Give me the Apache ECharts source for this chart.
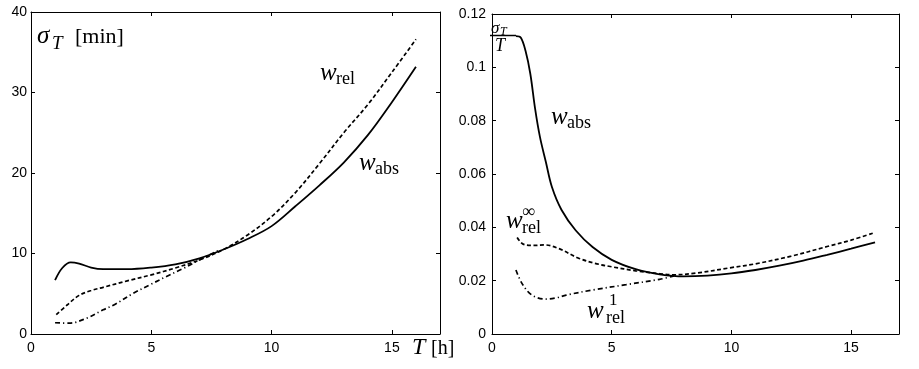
<!DOCTYPE html>
<html>
<head>
<meta charset="utf-8">
<script src="https://cdn.jsdelivr.net/npm/echarts@6/dist/echarts.min.js"></script>
<style>
  html, body { margin: 0; background: #fff; }
  #chart { width: 919px; height: 369px; }
</style>
</head>
<body>
<div id="chart"></div>
<script>
// left panel: sigma_T in minutes vs T [h]
const leftAbs = [[1.0, 6.7], [1.3, 8.2], [1.65, 8.9], [2.0, 8.75], [2.5, 8.25], [3.0, 8.05], [4.0, 8.05],
  [5.0, 8.25], [6.0, 8.65], [7.0, 9.4], [8.0, 10.5], [9.0, 11.8], [10.0, 13.4], [11.0, 15.9],
  [12.0, 18.5], [13.0, 21.3], [14.0, 24.7], [15.0, 28.8], [16.0, 33.2]];
const leftRel = [[1.05, 2.4], [1.5, 3.6], [2.0, 4.8], [2.5, 5.4], [3.0, 5.8], [4.0, 6.6], [5.0, 7.35],
  [6.0, 8.2], [7.0, 9.2], [8.0, 10.5], [9.0, 12.3], [10.0, 14.6], [11.0, 17.6], [12.0, 21.2],
  [13.0, 25.0], [14.0, 28.5], [15.0, 32.5], [16.0, 36.6]];
const leftRel1 = [[1.0, 1.4], [1.6, 1.35], [2.3, 1.95], [3.0, 3.0], [3.5, 3.7], [4.25, 5.05], [5.0, 6.2],
  [5.6, 7.1], [6.3, 8.1], [7.0, 9.2], [7.8, 10.4]];

// right panel: sigma_T / T
const rightAbs = [[1.0, 0.1117], [1.2, 0.1112], [1.4, 0.1062], [1.6, 0.0976], [1.8, 0.0845], [2.0, 0.074],
  [2.25, 0.0645], [2.5, 0.0552], [2.9, 0.0466], [3.5, 0.0388], [4.2, 0.0326], [5.0, 0.0278],
  [6.0, 0.0243], [7.0, 0.0224], [8.0, 0.0216], [9.0, 0.0219], [10.0, 0.0227], [11.0, 0.024],
  [12.0, 0.0256], [13.0, 0.0275], [14.0, 0.0297], [15.0, 0.032], [16.0, 0.0344]];
const rightRelInf = [[1.05, 0.0362], [1.3, 0.0337], [1.7, 0.0332], [2.2, 0.0334], [2.8, 0.032], [3.6, 0.0285],
  [4.3, 0.0265], [5.0, 0.0252], [6.0, 0.0237], [7.0, 0.0226], [7.6, 0.0222], [8.5, 0.0228],
  [10.0, 0.0249], [11.0, 0.0263], [12.5, 0.0292], [14.0, 0.0328], [15.0, 0.0352], [16.0, 0.0381]];
const rightRel1 = [[1.0, 0.024], [1.25, 0.019], [1.65, 0.0147], [2.2, 0.0131], [2.7, 0.0136], [3.1, 0.0146],
  [4.2, 0.0165], [5.6, 0.0185], [7.0, 0.0205], [7.6, 0.0218]];

const xTicks = { min: 0, max: 17, interval: 5 };
const leftY = { min: 0, max: 40, interval: 10 };
const rightY = { min: 0, max: 0.12, interval: 0.02 };

const chart = echarts.init(document.getElementById("chart"));

const SANS = '"Liberation Sans", Arial, sans-serif';
const SERIF = '"Liberation Serif", "DejaVu Serif", serif';

// box around each plot: axes on all four sides, ticks pointing in
const axisLine = { show: true, onZero: false, lineStyle: { color: "#000", width: 1 } };
const tick = { show: true, inside: true, length: 4, lineStyle: { color: "#000" } };

function xAxis(gi, pos, showLabel) {
  return {
    type: "value", gridIndex: gi, position: pos, ...xTicks,
    axisLine, axisTick: tick, splitLine: { show: false },
    axisLabel: { show: showLabel, color: "#000", fontFamily: SANS, fontSize: 14, margin: 7,
      showMaxLabel: false },
  };
}
function yAxis(gi, pos, range, showLabel, margin) {
  return {
    type: "value", gridIndex: gi, position: pos, ...range,
    axisLine, axisTick: tick, splitLine: { show: false },
    axisLabel: { show: showLabel, color: "#000", fontFamily: SANS, fontSize: 14, margin: margin },
  };
}

function line(data, xi, yi, type) {
  return {
    type: "line", xAxisIndex: xi, yAxisIndex: yi, data: data,
    smooth: 0.35, symbol: "none", silent: true,
    lineStyle: { color: "#000", width: type === "solid" ? 1.8 : 1.7, type: type },
  };
}

const DASH = [4, 2.5];
const DASHDOT = [5, 3, 1.2, 3];

// math-ish text pieces, placed by left edge and baseline
function t(x, base, text, size, italic) {
  return {
    type: "text", x: x, y: base + Math.round(size * 0.22), silent: true,
    style: {
      text: text, fill: "#000", verticalAlign: "bottom",
      font: (italic ? "italic " : "") + size + "px " + SERIF,
    },
  };
}

const graphics = [
  // left panel
  t(37, 43, "σ", 25, true), t(52, 49, "T", 19, true), t(75, 43, "[min]", 22, false),
  t(320, 80, "w", 25, true), t(336, 84, "rel", 18, false),
  t(359, 170, "w", 25, true), t(375, 174, "abs", 18, false),
  t(412, 355, "T", 24, true), t(431, 355, "[h]", 20, false),
  // right panel
  t(491, 33, "σ", 17, true), t(500, 35, "T", 12, true),
  { type: "line", silent: true, shape: { x1: 490, y1: 35.5, x2: 516, y2: 35.5 },
    style: { stroke: "#000", lineWidth: 1.5 } },
  t(495, 51, "T", 18, true),
  t(551, 124, "w", 25, true), t(567, 128, "abs", 18, false),
  t(506, 228, "w", 25, true), t(522, 233, "rel", 18, false), t(522, 217, "∞", 18, false),
  t(587, 318, "w", 25, true), t(606, 323, "rel", 18, false), t(609, 305, "1", 17, false),
];

chart.setOption({
  animation: false,
  backgroundColor: "#fff",
  grid: [
    { left: 31, right: 479, top: 12, bottom: 35, outerBoundsMode: "none" },
    { left: 492, right: 20, top: 14, bottom: 35, outerBoundsMode: "none" },
  ],
  xAxis: [xAxis(0, "bottom", true), xAxis(0, "top", false), xAxis(1, "bottom", true), xAxis(1, "top", false)],
  yAxis: [yAxis(0, "left", leftY, true, 4), yAxis(0, "right", leftY, false, 4),
    yAxis(1, "left", rightY, true, 6), yAxis(1, "right", rightY, false, 6)],
  series: [
    line(leftAbs, 0, 0, "solid"),
    line(leftRel, 0, 0, DASH),
    line(leftRel1, 0, 0, DASHDOT),
    line(rightAbs, 2, 2, "solid"),
    line(rightRelInf, 2, 2, DASH),
    line(rightRel1, 2, 2, DASHDOT),
  ],
  graphic: graphics,
});
</script>
</body>
</html>
